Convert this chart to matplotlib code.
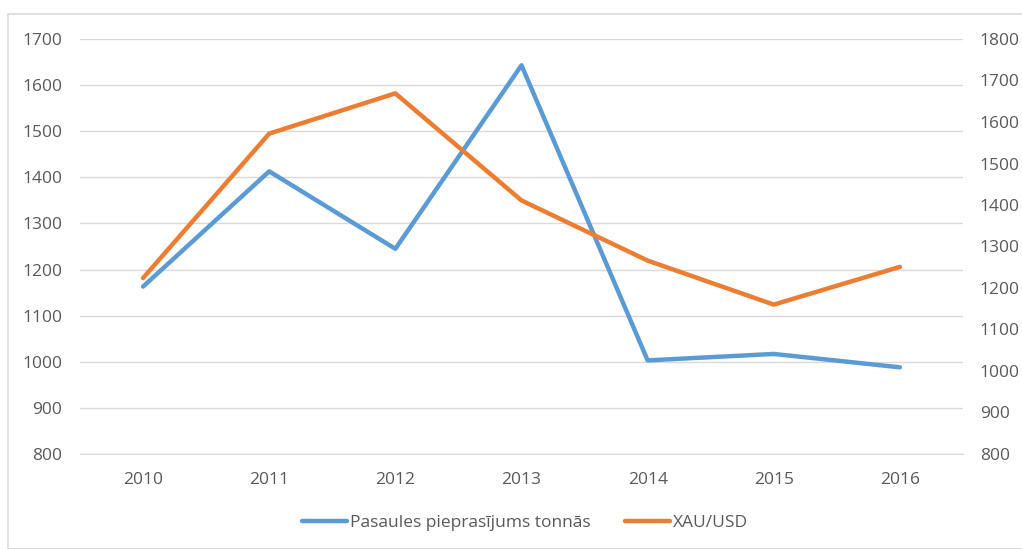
import matplotlib
matplotlib.use("Agg")
import matplotlib.pyplot as plt
from matplotlib.patches import Rectangle

years = ["2010", "2011", "2012", "2013", "2014", "2015", "2016"]
demand = [1163, 1413, 1245, 1643, 1003, 1017, 988]
xau = [1224, 1572, 1669, 1411, 1266, 1160, 1251]

plt.rcParams['font.family'] = ['Open Sans', 'DejaVu Sans']
txt = '#595959'
fs = 12.5

fig = plt.figure(figsize=(10.22, 5.49), dpi=100)
fig.patches.append(Rectangle((8/1022, 0), 1.1, 1-14/549, transform=fig.transFigure,
                             fill=False, edgecolor='#D9D9D9', linewidth=1.2))
ax = fig.add_axes([80/1022, 1-454/549, 883/1022, 415/549])
ax2 = ax.twinx()

x = list(range(len(years)))
l1, = ax.plot(x, demand, color='#5B9BD5', linewidth=3.2, solid_capstyle='round',
              label='Pasaules pieprasījums tonnās', zorder=3)
l2, = ax2.plot(x, xau, color='#ED7D31', linewidth=3.2, solid_capstyle='round',
               label='XAU/USD', zorder=3)

ax.set_xlim(-0.5, 6.5)
ax.set_ylim(800, 1700)
ax2.set_ylim(800, 1800)
ax.set_yticks(range(800, 1701, 100))
ax2.set_yticks(range(800, 1801, 100))
ax.set_xticks(x)
ax.set_xticklabels(years)
ax.grid(axis='y', color='#D9D9D9', linewidth=1)
ax.set_axisbelow(True)
for a in (ax, ax2):
    for s in a.spines.values():
        s.set_visible(False)
    a.tick_params(length=0, labelsize=fs, labelcolor=txt)
ax.spines['bottom'].set_visible(True)
ax.spines['bottom'].set_color('#D9D9D9')
ax.tick_params(axis='y', pad=13)
ax2.tick_params(axis='y', pad=12)
ax.tick_params(axis='x', pad=13)

fig.legend(handles=[l1, l2], loc='center', bbox_to_anchor=(525/1022, 1-523/549), ncol=2,
           frameon=False, fontsize=fs, labelcolor=txt, handlelength=2.6,
           handletextpad=0.15, columnspacing=2.0)
fig.savefig('out.png', dpi=100)
